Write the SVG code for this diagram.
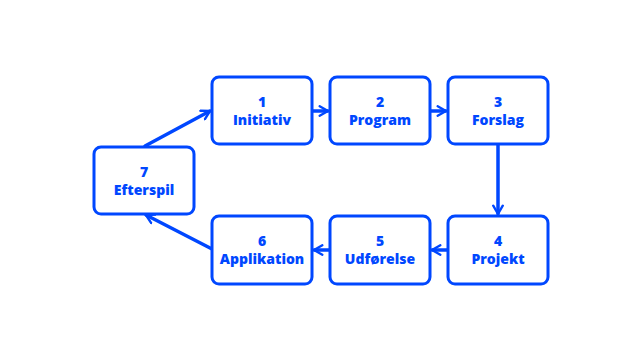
<svg xmlns="http://www.w3.org/2000/svg" width="642" height="361" viewBox="0 0 642 361">
<style>
.box{fill:#fff;stroke:#0047ff;stroke-width:3}
.t{font-family:"Open Sans","Noto Sans",sans-serif;font-weight:800;font-size:14px;fill:#0047ff;text-anchor:middle}
.c{stroke:#0047ff;stroke-width:3.5;fill:none;stroke-linecap:round}
</style>
<defs>
<marker id="a" viewBox="0 0 10 10" refX="8" refY="5" markerWidth="3.4" markerHeight="3.4" orient="auto" markerUnits="strokeWidth">
<path d="M1,1 L8,5 L1,9" fill="none" stroke="#0047ff" stroke-width="2" stroke-linecap="round" stroke-linejoin="round"/>
</marker>
</defs>
<rect width="642" height="361" fill="#fff"/>
<g id="connectors">
<line class="c" x1="312" y1="111" x2="328" y2="111" marker-end="url(#a)"/>
<line class="c" x1="430" y1="111" x2="446" y2="111" marker-end="url(#a)"/>
<line class="c" x1="498" y1="144" x2="498" y2="214" marker-end="url(#a)"/>
<line class="c" x1="448" y1="250" x2="432" y2="250" marker-end="url(#a)"/>
<line class="c" x1="330" y1="250" x2="314" y2="250" marker-end="url(#a)"/>
<line class="c" x1="212" y1="249" x2="146" y2="215" marker-end="url(#a)"/>
<line class="c" x1="145" y1="146" x2="210" y2="111" marker-end="url(#a)"/>
</g>
<g id="n1"><rect class="box" x="212" y="77" width="100" height="67" rx="7"/><text class="t" x="262" y="107">1</text><text class="t" x="262" y="125">Initiativ</text></g>
<g id="n2"><rect class="box" x="330" y="77" width="100" height="67" rx="7"/><text class="t" x="380" y="107">2</text><text class="t" x="380" y="125">Program</text></g>
<g id="n3"><rect class="box" x="448" y="77" width="100" height="67" rx="7"/><text class="t" x="498" y="107">3</text><text class="t" x="498" y="125">Forslag</text></g>
<g id="n4"><rect class="box" x="448" y="216" width="100" height="68" rx="7"/><text class="t" x="498" y="246">4</text><text class="t" x="498" y="264">Projekt</text></g>
<g id="n5"><rect class="box" x="330" y="216" width="100" height="68" rx="7"/><text class="t" x="380" y="246">5</text><text class="t" x="380" y="264">Udførelse</text></g>
<g id="n6"><rect class="box" x="212" y="216" width="100" height="68" rx="7"/><text class="t" x="262" y="246">6</text><text class="t" x="262" y="264">Applikation</text></g>
<g id="n7"><rect class="box" x="94" y="147" width="100" height="67" rx="7"/><text class="t" x="144" y="177">7</text><text class="t" x="144" y="195">Efterspil</text></g>
</svg>
